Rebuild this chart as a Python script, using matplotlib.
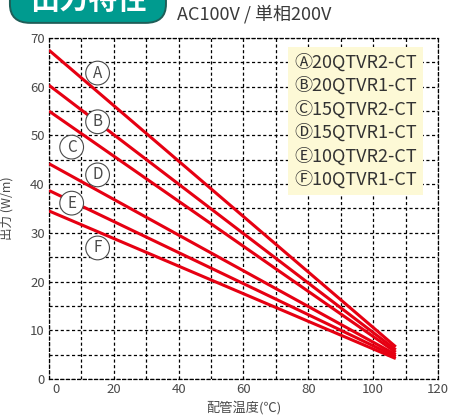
import matplotlib
import matplotlib.pyplot as plt
from matplotlib.patches import FancyBboxPatch
from matplotlib.transforms import ScaledTranslation

matplotlib.use("Agg")

# pipe temperature (C) at both ends of each line
temps = [0, 107]

# output (W/m) per model, read at 0 C and at 107 C
models = ["20QTVR2-CT", "20QTVR1-CT", "15QTVR2-CT",
          "15QTVR1-CT", "10QTVR2-CT", "10QTVR1-CT"]
marks = ["Ⓐ", "Ⓑ", "Ⓒ", "Ⓓ", "Ⓔ", "Ⓕ"]
letters = ["A", "B", "C", "D", "E", "F"]
out_a = [67.5, 6.6]
out_b = [60.3, 6.0]
out_c = [55.0, 5.5]
out_d = [44.2, 5.0]
out_e = [38.7, 4.6]
out_f = [34.5, 4.2]
series = [out_a, out_b, out_c, out_d, out_e, out_f]

# where the circled letters sit on the chart
mark_x = [15, 15, 7, 15, 7, 15]
mark_y = [62.8, 52.8, 47.6, 41.9, 36.1, 26.9]

x_ticks = [0, 20, 40, 60, 80, 100, 120]
y_ticks = [0, 10, 20, 30, 40, 50, 60, 70]

plt.rcParams["font.family"] = ["Noto Sans CJK JP", "DejaVu Sans"]
gray = "#4a4a4a"
red = "#e60012"

fig = plt.figure(figsize=(4.51, 4.16), dpi=100)
ax = fig.add_axes([0.1086, 0.0889, 0.8624, 0.8198])

for vals in series:
    ax.plot(temps, vals, color=red, lw=2.2, solid_capstyle="butt", zorder=3)

# circled letters with white fill over the lines
for l, x, y in zip(letters, mark_x, mark_y):
    ax.text(x, y, l, fontsize=11, color=gray, ha="center", va="center",
            zorder=4,
            bbox=dict(boxstyle="circle,pad=0.22", fc="white", ec=gray,
                      lw=0.8))

ax.set_xlim(0, 120)
ax.set_ylim(0, 70)
ax.set_xticks(x_ticks)
ax.set_yticks(y_ticks)
ax.set_xticks(range(0, 121, 10), minor=True)
ax.set_yticks(range(0, 71, 5), minor=True)
ax.grid(which="both", color="black", ls=(0, (2.5, 2)), lw=0.9)
ax.tick_params(which="both", length=0, colors=gray, labelsize=9.5, pad=3)
for sp in ax.spines.values():
    sp.set_linestyle((0, (2.5, 2)))
    sp.set_linewidth(0.9)
    sp.set_color("black")
ax.set_axisbelow(True)

# the "0" on the x axis sits a little right of the corner
first = ax.get_xticklabels()[0]
first.set_transform(first.get_transform()
                    + ScaledTranslation(7 / 100, 0, fig.dpi_scale_trans))

ax.set_ylabel("出力 (W/m)", fontsize=9, color=gray, labelpad=12)
ax.set_xlabel("配管温度(℃)", fontsize=9.5, color=gray, labelpad=3)

# legend box
legend_text = "\n".join(f"{m}{name}" for m, name in zip(marks, models))
ax.text(0.63, 0.955, legend_text, transform=ax.transAxes, fontsize=13,
        color="#333333", ha="left", va="top", linespacing=1.36, zorder=5,
        bbox=dict(boxstyle="square,pad=0.35", fc="#fdf9d6", ec="none"))

# header
badge = FancyBboxPatch((0.022, 0.945), 0.346, 0.12,
                       boxstyle="round,pad=0,rounding_size=0.045",
                       transform=fig.transFigure, fc="#009b8f",
                       ec="#1e5e58", lw=1.4, clip_on=False)
fig.patches.append(badge)
fig.text(0.195, 1.0, "出力特性", fontsize=21, fontweight="bold", color="white",
         ha="center", va="center")
fig.text(0.392, 0.966, "AC100V / 単相200V", fontsize=13, color="#3a3a3a",
         ha="left", va="center")

fig.savefig("out.png", dpi=100)
plt.close(fig)
